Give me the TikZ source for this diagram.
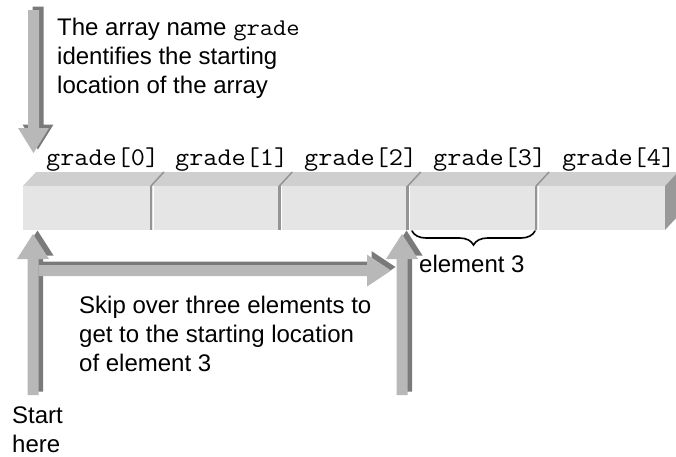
\documentclass[tikz,border=0pt]{standalone}
\usepackage{fontspec}
\setmainfont{Liberation Sans}
\setmonofont[FakeStretch=1.076]{Latin Modern Mono}
\usetikzlibrary{decorations.pathreplacing}
\definecolor{frontc}{gray}{0.9}
\definecolor{topc}{gray}{0.81}
\definecolor{sidec}{gray}{0.6}
\definecolor{divc}{gray}{0.58}
\definecolor{arrlight}{gray}{0.72}
\definecolor{arrdark}{gray}{0.48}
\newcommand\solidarrow[1]{\fill[arrdark,shift={(4.5,-3.5)}] #1; \fill[arrlight] #1;}
\begin{document}
\begin{tikzpicture}[x=1pt,y=-1pt,
  txt/.style={font=\fontsize{24}{29}\selectfont, align=left, inner sep=0pt, anchor=base west},
  mono/.style={font=\ttfamily\fontsize{25.5}{29}\selectfont, inner sep=0pt, anchor=base west},
  cell/.style={fill=frontc, draw=none, minimum width=128.4pt, minimum height=44pt, inner sep=0pt, anchor=north west},
  bracestyle/.style={decorate, decoration={brace, amplitude=14pt, mirror}, line width=1.6pt, line cap=round}
]
\useasboundingbox (0,0) rectangle (676,456);
\fill[white] (0,0) rectangle (676,456);

% array
\fill[topc] (23,186) -- (36,172) -- (678,172) -- (665,186) -- cycle;
\fill[sidec] (665,186) -- (678,172) -- (678,216) -- (665,230) -- cycle;
\foreach \k in {0,...,4}{
  \node[cell] (c\k) at ({23+128.4*\k},186) {};
}
\foreach \k in {1,...,4}{
  \draw[divc, line width=2.5pt] ([xshift=-0.5pt]c\k.north west) -- ([xshift=-0.5pt]c\k.south west);
  \draw[white, line width=0.8pt] ([xshift=1.5pt]c\k.north west) -- ([xshift=1.5pt]c\k.south west);
  \draw[divc, line width=1.5pt] ([xshift=-0.5pt]c\k.north west) -- ++(13,-14);
}

% labels
\foreach \k in {0,...,4}{
  \node[mono] (l\k) at ({46+129*\k},165) {grade[\k]};
}

% top arrow (down)
\solidarrow{(28,10) -- (39,10) -- (39,128) -- (49,128) -- (33.5,153) -- (18,128) -- (28,128) -- cycle}

% left up arrow
\solidarrow{(27.5,395) -- (27.5,259) -- (17,259) -- (33,234) -- (49,259) -- (38.5,259) -- (38.5,395) -- cycle}
% horizontal arrow
\solidarrow{(38.5,265) -- (367,265) -- (367,254.5) -- (391,270.5) -- (367,286.5) -- (367,276) -- (38.5,276) -- cycle}
% right up arrow
\solidarrow{(396.5,395) -- (396.5,259) -- (386,259) -- (402,234) -- (418,259) -- (407.5,259) -- (407.5,395) -- cycle}

% brace
\coordinate (b1) at (412,231);
\coordinate (b2) at (535,231);
\draw[bracestyle] (b1) -- (b2);

% texts (base anchor = baseline of last line)
\node[txt] (t1) at (57,93) {The array name \texttt{grade}\\identifies the starting\\location of the array};
\node[txt] (t2) at (419,272) {element 3};
\node[txt] (t3) at (79,371) {Skip over three elements to\\get to the starting location\\of element 3};
\node[txt] (t4) at (12,452) {Start\\here};
\end{tikzpicture}
\end{document}
